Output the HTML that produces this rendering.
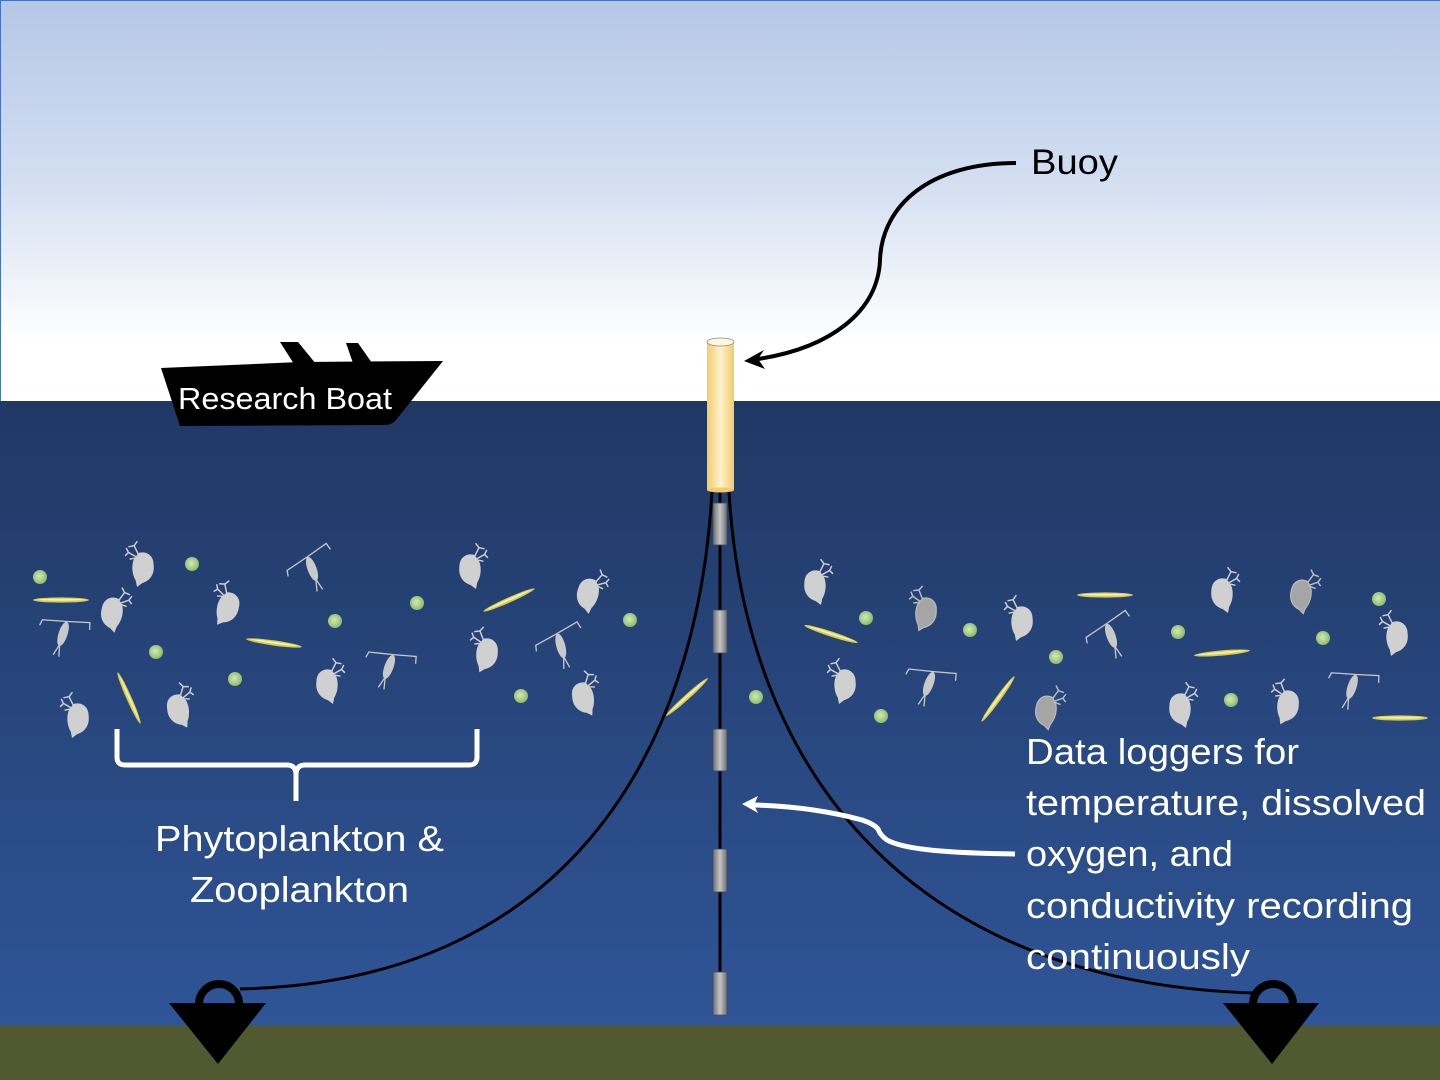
<!DOCTYPE html>
<html><head><meta charset="utf-8"><style>
html,body{margin:0;padding:0;background:#fff;}
svg{display:block;}
text{font-family:"Liberation Sans",sans-serif;}
</style></head><body>
<svg width="1440" height="1080" viewBox="0 0 1440 1080" xmlns="http://www.w3.org/2000/svg">
<defs>
<linearGradient id="sky" x1="0" y1="0" x2="0" y2="1">
<stop offset="0" stop-color="#b4c7e7"/><stop offset="0.45" stop-color="#d3def1"/><stop offset="0.85" stop-color="#ffffff"/><stop offset="1" stop-color="#ffffff"/>
</linearGradient>
<linearGradient id="water" x1="0" y1="0" x2="0" y2="1">
<stop offset="0" stop-color="#203864"/><stop offset="1" stop-color="#2f5597"/>
</linearGradient>
<linearGradient id="buoyg" x1="0" y1="0" x2="1" y2="0">
<stop offset="0" stop-color="#f3cb6a"/><stop offset="0.5" stop-color="#fff2cc"/><stop offset="1" stop-color="#f3cb6a"/>
</linearGradient>
<linearGradient id="logg" x1="0" y1="0" x2="1" y2="0">
<stop offset="0" stop-color="#6f6f6f"/><stop offset="0.5" stop-color="#c4c4c4"/><stop offset="1" stop-color="#6f6f6f"/>
</linearGradient>
<radialGradient id="dot" cx="0.45" cy="0.45" r="0.6">
<stop offset="0" stop-color="#d3eab5"/><stop offset="1" stop-color="#86b865"/>
</radialGradient>
<g id="daph" transform="scale(1.12)">
<path d="M-4,-12 C3,-14 9,-10 9,-2 C10,6 6,12 -1,14 L-5,17 L-6,12 C-9,7 -10,0 -8,-6 Z"/>
<path d="M-4,-11 L-8,-19 L-13,-18 M-8,-19 L-5,-23 M-6,-9 L-13,-13 L-16,-10 M-13,-13 L-15,-17 M-7,-8 L-12,-7" fill="none" stroke-width="1.3"/>
</g>
<g id="cop">
<path d="M-25,2 L-24,-4 L0,-10 L22,-16 L24,-9" fill="none" stroke-width="1.3"/>
<ellipse cx="0" cy="3" rx="4" ry="12"/>
<path d="M0,14 L-3,26 M0,14 L3,26" fill="none" stroke-width="1.3"/>
</g>
<g id="diat">
<ellipse cx="0" cy="0" rx="28" ry="2.6" fill="#d4cc55"/>
<ellipse cx="0" cy="-0.3" rx="24" ry="1" fill="#f6f1a8"/>
</g>
</defs>

<!-- background -->
<rect x="0" y="0" width="1440" height="401" fill="url(#sky)"/>
<rect x="0" y="0" width="1440" height="1" fill="#4472c4"/>
<rect x="0" y="0" width="1" height="401" fill="#4472c4"/>
<rect x="0" y="401" width="1440" height="625" fill="url(#water)"/>
<rect x="0" y="1025" width="1440" height="55" fill="#50592f"/>

<!-- green dots -->
<g fill="url(#dot)">
<circle cx="40" cy="577" r="7"/><circle cx="192" cy="564" r="7"/><circle cx="417" cy="603" r="7"/>
<circle cx="335" cy="621" r="7"/><circle cx="156" cy="652" r="7"/><circle cx="235" cy="679" r="7"/>
<circle cx="630" cy="620" r="7"/><circle cx="521" cy="696" r="7"/><circle cx="756" cy="697" r="7"/>
<circle cx="866" cy="618" r="7"/><circle cx="970" cy="630" r="7"/><circle cx="1056" cy="657" r="7"/>
<circle cx="881" cy="716" r="7"/><circle cx="1178" cy="632" r="7"/><circle cx="1231" cy="700" r="7"/>
<circle cx="1323" cy="638" r="7"/><circle cx="1379" cy="599" r="7"/>
</g>

<!-- diatoms -->
<use href="#diat" transform="translate(61,600)"/>
<use href="#diat" transform="translate(274,643) rotate(8)"/>
<use href="#diat" transform="translate(509,600) rotate(-24)"/>
<use href="#diat" transform="translate(129,698) rotate(66)"/>
<use href="#diat" transform="translate(687,697) rotate(-42)"/>
<use href="#diat" transform="translate(831,634) rotate(18)"/>
<use href="#diat" transform="translate(998,699) rotate(-54)"/>
<use href="#diat" transform="translate(1105,595)"/>
<use href="#diat" transform="translate(1222,653) rotate(-5)"/>
<use href="#diat" transform="translate(1400,718)"/>

<!-- daphnia -->
<g fill="#d0d0d0" stroke="#d0d0d0">
<use href="#daph" transform="translate(143,567)"/>
<use href="#daph" transform="translate(112,612) scale(-1,1) rotate(-10)"/>
<use href="#daph" transform="translate(228,607) rotate(15)"/>
<use href="#daph" transform="translate(327,684) scale(-1,1)"/>
<use href="#daph" transform="translate(178,709) scale(-1,1) rotate(10)"/>
<use href="#daph" transform="translate(78,718)"/>
<use href="#daph" transform="translate(470,569) scale(-1,1)"/>
<use href="#daph" transform="translate(487,653) rotate(5)"/>
<use href="#daph" transform="translate(588,593) scale(-1,1) rotate(-15)"/>
<use href="#daph" transform="translate(583,697) scale(-1,1) rotate(10)"/>
<use href="#daph" transform="translate(815,585) scale(-1,1)"/>
<use href="#daph" transform="translate(1022,621)"/>
<use href="#daph" transform="translate(845,684)"/>
<use href="#daph" transform="translate(1222,593) scale(-1,1)"/>
<use href="#daph" transform="translate(1397,636)"/>
<use href="#daph" transform="translate(1180,708) scale(-1,1)"/>
<use href="#daph" transform="translate(1288,705) rotate(5)"/>
</g>
<g fill="#a5a5a5" stroke="#bdbdbd">
<use href="#daph" transform="translate(926,612) rotate(5)"/>
<use href="#daph" transform="translate(1046,710) scale(-1,1) rotate(-10)"/>
<use href="#daph" transform="translate(1301,594) scale(-1,1) rotate(-10)"/>
</g>

<!-- copepods -->
<g fill="#c9c9c9" stroke="#c9c9c9">
<use href="#cop" transform="translate(64,631) rotate(18)"/>
<use href="#cop" transform="translate(311,566) rotate(-20)"/>
<use href="#cop" transform="translate(390,664) rotate(20)"/>
<use href="#cop" transform="translate(560,643) rotate(-15)"/>
<use href="#cop" transform="translate(930,681) rotate(20)"/>
<use href="#cop" transform="translate(1110,633) rotate(-20)"/>
<use href="#cop" transform="translate(1353,684) rotate(18)"/>
</g>

<!-- mooring lines -->
<g fill="none" stroke="#000" stroke-width="3">
<path d="M712,491 C697,760 560,982 240,989"/>
<path d="M729,491 C744,760 900,982 1254,993"/>
<path d="M720,491 L720,1015"/>
</g>

<!-- loggers -->
<g fill="url(#logg)" stroke="#3a4a66" stroke-width="0.8">
<rect x="713" y="503" width="14" height="42"/>
<rect x="713" y="610" width="14" height="43"/>
<rect x="713" y="729" width="14" height="42"/>
<rect x="713" y="849" width="14" height="43"/>
<rect x="713" y="972" width="14" height="43"/>
</g>

<!-- buoy -->
<rect x="707" y="342" width="27" height="148" fill="url(#buoyg)"/>
<ellipse cx="720.5" cy="490" rx="13.5" ry="2.5" fill="#f3cb6a"/>
<ellipse cx="720.5" cy="342" rx="13.5" ry="4" fill="#fff6dc" stroke="#8090a0" stroke-width="0.8"/>

<!-- anchors -->
<g fill="#000">
<circle cx="219" cy="1004" r="20" fill="none" stroke="#000" stroke-width="8"/>
<polygon points="169,1003 266,1003 218,1064"/>
<circle cx="1273" cy="1004" r="20" fill="none" stroke="#000" stroke-width="8"/>
<polygon points="1223,1003 1319,1003 1272,1064"/>
</g>

<!-- boat -->
<g fill="#000">
<polygon points="280,342 298,342 316,364 294,364"/>
<polygon points="346,343 358,343 372,363 353,363"/>
<path d="M161,368 L300,362 L443,361 L396,420 Q392,425 384,425 L180,426 Z"/>
</g>
<text x="178" y="409" font-size="31" fill="#fff" textLength="214" lengthAdjust="spacingAndGlyphs">Research Boat</text>

<!-- buoy label & arrow -->
<path d="M1016,163 C930,163 882,205 880,260 C878,312 830,348 758,359" fill="none" stroke="#000" stroke-width="4"/>
<polygon points="744,361 764,350 758,359 765,369" fill="#000"/>
<text x="1031" y="174" font-size="35" fill="#000" textLength="87" lengthAdjust="spacingAndGlyphs">Buoy</text>

<!-- bracket -->
<path d="M117,729 V757 Q117,765 125,765 H287 Q296,765 296,775 V801 M296,775 Q296,765 305,765 H469 Q477,765 477,757 V729" fill="none" stroke="#fff" stroke-width="5"/>
<text x="155" y="851" font-size="36" fill="#fff" textLength="289" lengthAdjust="spacingAndGlyphs">Phytoplankton &amp;</text>
<text x="190" y="902" font-size="36" fill="#fff" textLength="219" lengthAdjust="spacingAndGlyphs">Zooplankton</text>

<!-- logger arrow -->
<path d="M1015,854 C950,853 905,850 887,840 Q880,835 878,829 Q874,824 862,820 C825,810 790,806 754,805" fill="none" stroke="#fff" stroke-width="5"/>
<polygon points="742,804 758,796 754,805 758,813" fill="#fff"/>

<g font-size="36" fill="#fff">
<text x="1026" y="764" textLength="273" lengthAdjust="spacingAndGlyphs">Data loggers for</text>
<text x="1026" y="815" textLength="400" lengthAdjust="spacingAndGlyphs">temperature, dissolved</text>
<text x="1026" y="866" textLength="207" lengthAdjust="spacingAndGlyphs">oxygen, and</text>
<text x="1026" y="918" textLength="387" lengthAdjust="spacingAndGlyphs">conductivity recording</text>
<text x="1026" y="969" textLength="224" lengthAdjust="spacingAndGlyphs">continuously</text>
</g>
</svg>
</body></html>
